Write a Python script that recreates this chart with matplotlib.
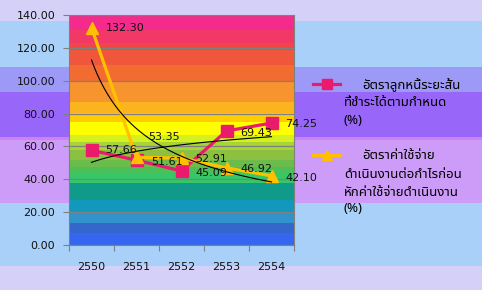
import matplotlib
matplotlib.use("Agg")
import matplotlib.pyplot as plt
import numpy as np

# data
years = ["2550", "2551", "2552", "2553", "2554"]
receivable = [57.66, 51.61, 45.09, 69.43, 74.25]
expense = [132.30, 53.35, 52.91, 46.92, 42.10]
name_rec = ["อัตราลูกหนี้ระยะสั้น", "ที่ชำระได้ตามกำหนด", "(%)"]
name_exp = ["อัตราค่าใช้จ่าย", "ดำเนินงานต่อกำไรก่อน", "หักค่าใช้จ่ายดำเนินงาน", "(%)"]

PINK = "#ea1a6c"
GOLD = "#ffc000"
THAI = ["Noto Sans Thai", "Sarabun", "Bai Jamjuree", "Athiti", "DejaVu Sans"]

W, H = 482, 290
fig = plt.figure(figsize=(W / 100, H / 100), dpi=100)

# background bands of the chart area (pixel rows from the top)
bg = fig.add_axes([0, 0, 1, 1], zorder=-5)
bg.set_xlim(0, 1)
bg.set_ylim(H, 0)
bg.axis("off")
bands = [(0, 21, "#d4d0f8"), (21, 67, "#a8d0f8"), (67, 92, "#9c9af6"),
         (92, 137, "#9966fa"), (137, 140, "#d080f0"), (140, 203, "#cc9cf8"),
         (203, 266, "#a8d0f8"), (266, 290, "#d4d0f8")]
for y0, y1, c in bands:
    bg.axhspan(y0, y1, color=c, lw=0)

ax = fig.add_axes([69 / W, 1 - 245 / H, 225 / W, 230 / H])

# rainbow stripes of the plot area (value ranges)
stripes = [140, 131, 123, 118.7, 109.6, 99.4, 87.2, 80.2, 75.1, 67, 62.9, 57.8,
           51.7, 47.7, 43.6, 37.9, 27.4, 19.3, 13.6, 7.1, 0]
scols = ["#f42a8c", "#f23866", "#f04648", "#f0563c", "#f26c32", "#f8942e",
         "#fcb41e", "#ffcc00", "#ffff00", "#d4f020", "#a8d434", "#8cc040",
         "#6cbc4c", "#4cc058", "#34c868", "#109a8a", "#1298bc", "#3292cc",
         "#3466cc", "#3466f0"]
for i, c in enumerate(scols):
    ax.axhspan(stripes[i + 1], stripes[i], color=c, lw=0, zorder=0)

x = np.arange(len(years))
ax.set_yticks(np.arange(0, 141, 20))
ax.yaxis.grid(True, color="#808080", lw=0.9, zorder=1)
ax.set_axisbelow(True)

l1, = ax.plot(x, receivable, color=PINK, lw=2.3, marker="s", ms=8, zorder=3)
l2, = ax.plot(x, expense, color=GOLD, lw=2.3, marker="^", ms=9, zorder=3)

# trendlines: logarithmic for receivable, power for expense
t = x + 1
xs = np.linspace(1, 5, 100)
a, b = np.polyfit(np.log(t), receivable, 1)
ax.plot(xs - 1, a * np.log(xs) + b, color="black", lw=0.8, zorder=4)
p, q = np.polyfit(np.log(t), np.log(expense), 1)
ax.plot(xs - 1, np.exp(q) * xs ** p, color="black", lw=0.8, zorder=4)

# data labels
off_rec = [(10, 0), (10.5, -1), (10, -1.5), (10, -1.5), (10, -1)]
off_exp = [(10, 0), (8.5, 15), (10, -1), (10, -1), (10, -1.5)]
for vals, offs in ((receivable, off_rec), (expense, off_exp)):
    for xi, v, o in zip(x, vals, offs):
        ax.annotate(f"{v:.2f}", (xi, v), xytext=o, textcoords="offset points",
                    ha="left", va="center", fontsize=8, color="#111111", zorder=6)

ax.set_xlim(-0.5, 4.5)
ax.set_ylim(0, 140)
ax.yaxis.set_major_formatter(matplotlib.ticker.FormatStrFormatter("%.2f"))
ax.set_xticks(np.arange(-0.5, 5, 1))
ax.set_xticklabels([])
ax.set_xticks(x, minor=True)
ax.set_xticklabels(years, minor=True)
ax.tick_params(axis="x", which="major", length=4, color="#808080", direction="out")
ax.tick_params(axis="x", which="minor", length=0, pad=12, labelsize=8, labelcolor="#111111")
ax.tick_params(axis="y", length=4, color="#808080", pad=6, labelsize=8, labelcolor="#111111")
for s in ax.spines.values():
    s.set_color("#808080")
    s.set_linewidth(0.8)

# legend: first line next to the marker, the rest wrapped below
leg = fig.legend([l1, l2], [name_rec[0], name_exp[0]],
                 loc="upper left", bbox_to_anchor=(313 / W, 1 - 78 / H),
                 frameon=False, borderpad=0, borderaxespad=0, handlelength=2.05,
                 handletextpad=1.7, labelspacing=4.35, markerscale=0.85,
                 prop={"family": THAI, "size": 9.5})
for txt, y in zip(name_rec[1:], [103, 120.5]):
    fig.text(344 / W, 1 - y / H, txt, va="center", ha="left", fontsize=9.5, family=THAI)
for txt, y in zip(name_exp[1:], [175, 192, 209]):
    fig.text(344 / W, 1 - y / H, txt, va="center", ha="left", fontsize=9.5, family=THAI)

fig.savefig("out.png", dpi=100)
